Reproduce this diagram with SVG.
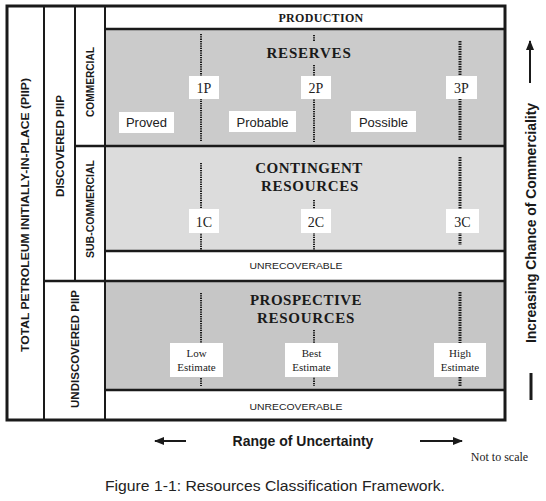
<svg xmlns="http://www.w3.org/2000/svg" width="546" height="501" viewBox="0 0 546 501">
<style>
.frame{fill:none;stroke:#1a1a1a}
.vt{font-family:"Liberation Sans",Arial,sans-serif;font-weight:bold;fill:#1a1a1a}
.title{font-family:"Liberation Serif","Times New Roman",serif;font-weight:bold;fill:#1a1a1a;font-size:15px;letter-spacing:0.8px;text-anchor:middle}
.lbl{fill:#ffffff;stroke:none}
.ser{font-family:"Liberation Serif","Times New Roman",serif;fill:#222;text-anchor:middle}
.sans{font-family:"Liberation Sans",Arial,sans-serif;fill:#222;text-anchor:middle}
.dot{stroke:#1a1a1a;stroke-width:2;stroke-dasharray:1.3 1;fill:none}
.dot3{stroke:#1a1a1a;stroke-width:3;stroke-dasharray:1.5 1;fill:none}
</style>
<defs>
<marker id="ah" viewBox="0 0 10 10" refX="9" refY="5" markerWidth="5" markerHeight="5" orient="auto">
<path d="M0,1 L10,5 L0,9 z" fill="#1a1a1a"/>
</marker>
</defs>
<rect width="546" height="501" fill="#ffffff"/>

<g id="production">
<rect x="105" y="6" width="400" height="23" fill="#ffffff"/>
<text class="title" x="321" y="22" style="font-size:12px;letter-spacing:0.3px">PRODUCTION</text>
</g>

<g id="reserves">
<rect x="105" y="29" width="400" height="117" fill="#cbcbcb"/>
<text class="title" x="309" y="58">RESERVES</text>
<line class="dot" x1="201" y1="34" x2="201" y2="142"/>
<line class="dot" x1="314" y1="35" x2="314" y2="41"/>
<line class="dot" x1="314" y1="65" x2="314" y2="142"/>
<line class="dot3" x1="460" y1="41" x2="460" y2="141"/>
<rect class="lbl" x="189" y="76" width="30" height="23"/>
<text class="ser" x="204" y="93" font-size="14">1P</text>
<rect class="lbl" x="301" y="76" width="30" height="23"/>
<text class="ser" x="316" y="93" font-size="14">2P</text>
<rect class="lbl" x="446" y="76" width="31" height="23"/>
<text class="ser" x="461.5" y="93" font-size="14">3P</text>
<rect class="lbl" x="119" y="112" width="55" height="21"/>
<text class="sans" x="146.5" y="127" font-size="13">Proved</text>
<rect class="lbl" x="229" y="111" width="67" height="21"/>
<text class="sans" x="262.5" y="126.5" font-size="13">Probable</text>
<rect class="lbl" x="351" y="111" width="65" height="21"/>
<text class="sans" x="383.5" y="126.5" font-size="13">Possible</text>
</g>

<g id="contingent">
<rect x="105" y="146" width="400" height="105" fill="#dcdcdc"/>
<text class="title" x="309" y="173" style="letter-spacing:0.5px">CONTINGENT</text>
<text class="title" x="310" y="191" style="letter-spacing:0.7px">RESOURCES</text>
<line class="dot" x1="201" y1="163" x2="201" y2="250"/>
<line class="dot" x1="314" y1="200" x2="314" y2="250"/>
<line class="dot3" x1="460" y1="157" x2="460" y2="245"/>
<rect class="lbl" x="189" y="209" width="30" height="24"/>
<text class="ser" x="204" y="227" font-size="14">1C</text>
<rect class="lbl" x="301" y="209" width="30" height="24"/>
<text class="ser" x="316" y="227" font-size="14">2C</text>
<rect class="lbl" x="446" y="209" width="33" height="24"/>
<text class="ser" x="462.5" y="227" font-size="14">3C</text>
</g>

<g id="unrecoverable-1">
<rect x="105" y="251" width="400" height="30" fill="#ffffff"/>
<text class="sans" x="296" y="269" font-size="9.5" textLength="93" lengthAdjust="spacingAndGlyphs">UNRECOVERABLE</text>
</g>

<g id="prospective">
<rect x="105" y="281" width="400" height="109" fill="#c6c6c6"/>
<text class="title" x="306" y="305" style="letter-spacing:0.5px">PROSPECTIVE</text>
<text class="title" x="306" y="323" style="letter-spacing:0.7px">RESOURCES</text>
<line class="dot" x1="201" y1="293" x2="201" y2="386"/>
<line class="dot" x1="314" y1="330" x2="314" y2="386"/>
<line class="dot3" x1="460" y1="292" x2="460" y2="386"/>
<rect class="lbl" x="170" y="343" width="53" height="34"/>
<text class="ser" x="196.5" y="357" font-size="11">Low</text>
<text class="ser" x="196.5" y="370.5" font-size="11">Estimate</text>
<rect class="lbl" x="285" y="343" width="53" height="34"/>
<text class="ser" x="311.5" y="357" font-size="11">Best</text>
<text class="ser" x="311.5" y="370.5" font-size="11">Estimate</text>
<rect class="lbl" x="434" y="343" width="52" height="34"/>
<text class="ser" x="460" y="357" font-size="11">High</text>
<text class="ser" x="460" y="370.5" font-size="11">Estimate</text>
</g>

<g id="unrecoverable-2">
<rect x="105" y="390" width="400" height="30" fill="#ffffff"/>
<text class="sans" x="296" y="410" font-size="9.5" textLength="93" lengthAdjust="spacingAndGlyphs">UNRECOVERABLE</text>
</g>

<g id="grid-lines">
<line class="frame" stroke-width="2.5" x1="105" y1="29" x2="505" y2="29"/>
<line class="frame" stroke-width="2.5" x1="75" y1="146" x2="505" y2="146"/>
<line class="frame" stroke-width="2.5" x1="105" y1="251" x2="505" y2="251"/>
<line class="frame" stroke-width="2.5" x1="44" y1="281" x2="505" y2="281"/>
<line class="frame" stroke-width="2.5" x1="105" y1="390" x2="505" y2="390"/>
<line class="frame" stroke-width="2" x1="44" y1="6" x2="44" y2="420"/>
<line class="frame" stroke-width="2" x1="75" y1="6" x2="75" y2="281"/>
<line class="frame" stroke-width="2" x1="105" y1="6" x2="105" y2="420"/>
<rect class="frame" stroke-width="3" x="7" y="6" width="498" height="414"/>
</g>

<g id="total-piip">
<text class="vt" transform="translate(29,215) rotate(-90)" text-anchor="middle" font-size="11" textLength="274" lengthAdjust="spacingAndGlyphs">TOTAL PETROLEUM INITIALLY-IN-PLACE  (PIIP)</text>
</g>
<g id="discovered-piip">
<text class="vt" transform="translate(64,146) rotate(-90)" text-anchor="middle" font-size="10.5" textLength="102" lengthAdjust="spacingAndGlyphs">DISCOVERED PIIP</text>
</g>
<g id="commercial">
<text class="vt" transform="translate(94,82) rotate(-90)" text-anchor="middle" font-size="10" textLength="70" lengthAdjust="spacingAndGlyphs">COMMERCIAL</text>
</g>
<g id="sub-commercial">
<text class="vt" transform="translate(94,209) rotate(-90)" text-anchor="middle" font-size="10" textLength="98" lengthAdjust="spacingAndGlyphs">SUB-COMMERCIAL</text>
</g>
<g id="undiscovered-piip">
<text class="vt" transform="translate(79,349) rotate(-90)" text-anchor="middle" font-size="11" textLength="118" lengthAdjust="spacingAndGlyphs">UNDISCOVERED PIIP</text>
</g>

<g id="commerciality-axis">
<text class="vt" transform="translate(536,223) rotate(-90)" text-anchor="middle" font-size="14" textLength="240" lengthAdjust="spacingAndGlyphs">Increasing Chance of Commerciality</text>
</g>

<g id="uncertainty-axis">
<text class="vt" x="303" y="446" text-anchor="middle" font-size="14">Range of Uncertainty</text>
</g>

<g id="connectors">
<line x1="530" y1="83" x2="530" y2="41" stroke="#1a1a1a" stroke-width="2" marker-end="url(#ah)"/>
<line x1="531" y1="373" x2="531" y2="400" stroke="#1a1a1a" stroke-width="3"/>
<line x1="186" y1="441" x2="155" y2="441" stroke="#1a1a1a" stroke-width="2" marker-end="url(#ah)"/>
<line x1="420" y1="441" x2="462" y2="441" stroke="#1a1a1a" stroke-width="2" marker-end="url(#ah)"/>
</g>

<text class="ser" x="499.5" y="461" font-size="12">Not to scale</text>
<text x="105" y="491" font-family="Liberation Sans, Arial, sans-serif" font-size="15" fill="#222" textLength="340" lengthAdjust="spacingAndGlyphs">Figure 1-1: Resources Classification Framework.</text>
</svg>
